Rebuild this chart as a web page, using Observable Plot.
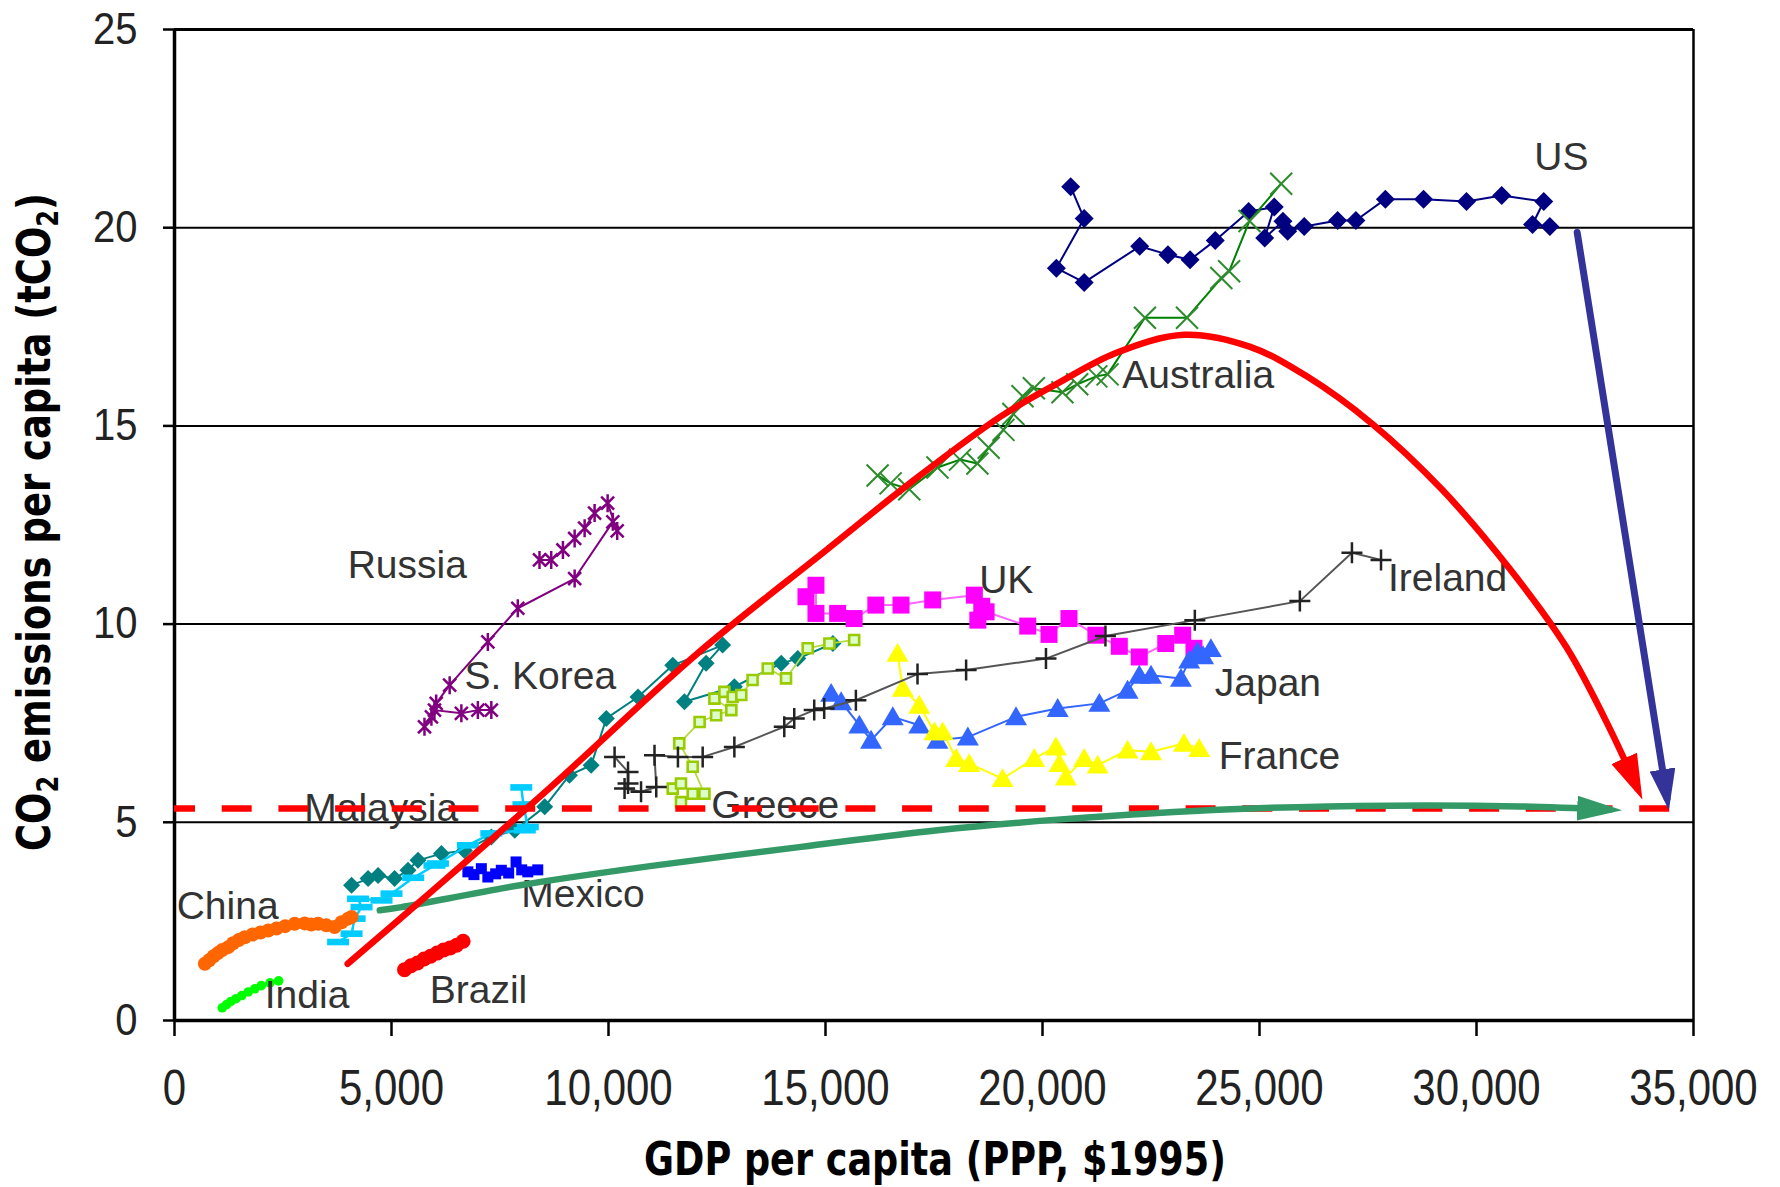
<!DOCTYPE html>
<html><head><meta charset="utf-8">
<script src="https://cdn.jsdelivr.net/npm/d3@7"></script>
<script src="https://cdn.jsdelivr.net/npm/@observablehq/plot@0.6"></script>
<style>html,body{margin:0;padding:0;background:#fff;}#chart{width:1780px;height:1187px;}</style>
</head><body><div id="chart"></div>
<script>
// ---------- data (GDP per capita PPP $1995, CO2 t per capita) ----------
const xTicks = [0,5000,10000,15000,20000,25000,30000,35000];
const yTicks = [0,5,10,15,20,25];

const us = [[20650,21.03],[20960,20.23],[20320,18.98],[20960,18.62],[22240,19.53],[22890,19.32],[23400,19.19],[23980,19.68],[24750,20.41],[25340,20.52],[25120,19.74],[25540,20.16],[25650,19.91],[26030,20.03],[26800,20.18],[27220,20.18],[27900,20.72],[28780,20.72],[29770,20.66],[30580,20.81],[31550,20.66],[31290,20.08],[31690,20.03]];
const australia = [[16200,13.75],[16500,13.55],[16930,13.40],[17580,13.95],[18100,14.15],[18500,14.05],[18760,14.45],[19100,14.90],[19330,15.30],[19540,15.75],[19800,15.95],[20460,15.85],[20800,16.05],[21240,16.25],[21500,16.30],[22360,17.73],[23330,17.73],[24120,18.73],[24300,18.90],[24770,20.17],[25500,21.11]];
const russia = [[8410,11.62],[8680,11.62],[8950,11.87],[9220,12.16],[9450,12.42],[9680,12.80],[9980,13.05],[10200,12.35],[10100,12.58],[9220,11.15],[7910,10.40],[7220,9.55],[6340,8.46],[6030,8.00],[5920,7.66],[5760,7.41],[5990,7.83],[6610,7.75],[6990,7.83],[7300,7.83]];
const korea = [[4080,3.41],[4460,3.58],[4690,3.66],[5070,3.58],[5380,3.79],[5610,4.04],[6150,4.21],[6680,4.29],[7300,4.63],[7840,4.80],[8530,5.39],[9100,6.19],[9600,6.44],[9950,7.62],[10680,8.16],[11480,8.96],[12630,9.47],[12250,9.01],[11750,8.04],[12900,8.42],[13980,9.01],[14360,9.13],[15170,9.51]];
const malaysia = [[3770,1.98],[4080,2.19],[4150,2.57],[4310,2.86],[4230,3.07],[4770,3.03],[5000,3.20],[5500,3.60],[5990,3.91],[6070,3.96],[6760,4.42],[7300,4.72],[8070,4.80],[8140,4.88],[8040,5.45],[7990,5.88]];
const china = [[700,1.43],[800,1.52],[900,1.62],[1000,1.70],[1100,1.78],[1240,1.85],[1350,1.95],[1480,2.03],[1620,2.10],[1800,2.17],[1980,2.22],[2160,2.27],[2350,2.32],[2550,2.38],[2770,2.44],[3000,2.45],[3150,2.42],[3310,2.44],[3500,2.40],[3690,2.36],[3850,2.48],[4000,2.57],[4080,2.61]];
const india = [[1100,0.32],[1200,0.40],[1300,0.48],[1420,0.55],[1550,0.63],[1700,0.72],[1850,0.80],[2000,0.88],[2200,0.95],[2400,1.00]];
const brazil = [[5300,1.28],[5450,1.38],[5600,1.45],[5750,1.55],[5900,1.62],[6050,1.70],[6200,1.78],[6350,1.83],[6500,1.90],[6650,2.00]];
const mexico = [[6760,3.75],[6900,3.68],[7070,3.83],[7220,3.62],[7400,3.70],[7530,3.79],[7700,3.72],[7870,4.00],[8000,3.80],[8140,3.75],[8370,3.80]];
const uk = [[14550,10.69],[14780,10.98],[14780,10.27],[15280,10.27],[15660,10.14],[16160,10.48],[16740,10.48],[17470,10.61],[18430,10.73],[18600,10.45],[18510,10.10],[18700,10.31],[19660,9.95],[20150,9.74],[20610,10.14],[21230,9.72],[21770,9.44],[22230,9.17],[22840,9.51],[23230,9.72],[23490,9.39]];
const japan = [[15130,8.25],[15360,8.04],[15780,7.45],[16050,7.07],[16550,7.66],[17160,7.45],[17580,7.07],[18280,7.15],[19390,7.66],[20350,7.87],[21310,8.00],[21960,8.33],[22230,8.71],[22500,8.71],[23190,8.63],[23380,9.09],[23570,9.30],[23880,9.38],[23700,9.20]];
const france = [[16660,9.26],[16780,8.38],[17160,7.95],[17510,7.28],[17700,7.28],[18010,6.61],[18310,6.48],[19080,6.10],[19810,6.61],[20310,6.90],[20390,6.48],[20540,6.14],[20960,6.61],[21270,6.44],[21960,6.82],[22500,6.78],[23260,6.99],[23610,6.86]];
const greece = [[11670,5.51],[11480,5.85],[11670,5.98],[11940,5.72],[12210,5.72],[11940,6.40],[11630,6.99],[12100,7.53],[12480,7.70],[12830,7.83],[12440,8.12],[12670,8.29],[12860,8.16],[13060,8.21],[13320,8.59],[13670,8.88],[14090,8.63],[14590,9.39],[15090,9.51],[15660,9.60]];
const ireland = [[10140,6.65],[10450,6.27],[10450,5.98],[10370,5.85],[10750,5.77],[11100,5.89],[11060,6.69],[11600,6.65],[12170,6.65],[12900,6.90],[14050,7.41],[14280,7.62],[14740,7.83],[14970,7.87],[15700,8.08],[17120,8.74],[18240,8.84],[20080,9.13],[21450,9.70],[23510,10.10],[25930,10.58],[27130,11.80],[27800,11.62]];

const labelNames = ["US","Australia","Russia","UK","Ireland","S. Korea","Japan","France","Malaysia","Greece","China","Mexico","Brazil","India"];
const labelX = [31330,21840,3990,18540,27960,6680,23970,24060,2990,12370,50,7990,5880,2080];
const labelY = [21.77,16.27,11.47,11.09,11.15,8.68,8.50,6.65,5.36,5.43,2.88,3.18,0.75,0.63];

// annotation paths (value space)
const redCurve = [[3990,1.43],[5770,3.11],[8680,5.90],[12050,9.26],[15000,11.85],[17000,13.60],[19040,15.24],[20360,16.08],[21690,16.84],[23270,17.30],[24770,17.00],[26090,16.25],[27600,15.05],[29200,13.40],[30760,11.40],[32070,9.42],[33090,7.32],[33710,5.85]];
const greenArrow = [[4730,2.78],[5230,2.86],[8000,3.42],[11000,3.90],[14440,4.38],[17580,4.80],[20500,5.08],[24340,5.33],[28000,5.42],[31000,5.40],[33080,5.32]];
const blueArrow = [[32320,19.88],[34390,5.61]];
const targetLevel = [5.35];

// ---------- styles ----------
const sym = {
  diamond: {draw(c,s){const r=Math.sqrt(s/Math.PI);c.moveTo(0,-r);c.lineTo(r,0);c.lineTo(0,r);c.lineTo(-r,0);c.closePath();}},
  square: {draw(c,s){const r=Math.sqrt(s/Math.PI);c.rect(-r,-r,2*r,2*r);}},
  triangle: {draw(c,s){const r=Math.sqrt(s/Math.PI);c.moveTo(0,-r);c.lineTo(1.05*r,0.8*r);c.lineTo(-1.05*r,0.8*r);c.closePath();}},
  dash: {draw(c,s){const r=Math.sqrt(s/Math.PI);c.rect(-r,-0.3*r,2*r,0.6*r);}},
  plus: {draw(c,s){const r=Math.sqrt(s/Math.PI);c.moveTo(-r,0);c.lineTo(r,0);c.moveTo(0,-r);c.lineTo(0,r);}},
  times: {draw(c,s){const r=Math.sqrt(s/Math.PI);c.moveTo(-r,-r);c.lineTo(r,r);c.moveTo(r,-r);c.lineTo(-r,r);}},
  star: {draw(c,s){const r=Math.sqrt(s/Math.PI);const k=0.72*r;c.moveTo(0,-r);c.lineTo(0,r);c.moveTo(-k,-k);c.lineTo(k,k);c.moveTo(k,-k);c.lineTo(-k,k);}}
};

const series = [
  {data: us, line:"#000080", lw:2, symbol:sym.diamond, r:9.5, fill:"#000080", stroke:"none", sw:0},
  {data: australia, line:"#008000", lw:2, symbol:sym.times, r:11, fill:"none", stroke:"#2e8b2e", sw:2},
  {data: russia, line:"#800080", lw:2, symbol:sym.star, r:9, fill:"none", stroke:"#800080", sw:2.5},
  {data: korea, line:"#008080", lw:2, symbol:sym.diamond, r:8.5, fill:"#008080", stroke:"none", sw:0},
  {data: malaysia, line:"#00CCFF", lw:2.5, symbol:sym.dash, r:11, fill:"#00CCFF", stroke:"none", sw:0},
  {data: china, line:"#FF6600", lw:4, symbol:"circle", r:7, fill:"#FF6600", stroke:"none", sw:0},
  {data: india, line:"#00FF00", lw:3, symbol:"circle", r:4.8, fill:"#00FF00", stroke:"none", sw:0},
  {data: brazil, line:"#FF0000", lw:4, symbol:"circle", r:7.5, fill:"#FF0000", stroke:"none", sw:0},
  {data: mexico, line:"#0000FF", lw:2, symbol:sym.square, r:5.5, fill:"#0000FF", stroke:"none", sw:0},
  {data: uk, line:"#FF66FF", lw:2, symbol:sym.square, r:8.5, fill:"#FF00FF", stroke:"none", sw:0},
  {data: japan, line:"#3366FF", lw:2, symbol:sym.triangle, r:10.5, fill:"#3366FF", stroke:"none", sw:0},
  {data: france, line:"#FFFF00", lw:2, symbol:sym.triangle, r:10.5, fill:"#FFFF00", stroke:"none", sw:0},
  {data: greece, line:"#B5DB40", lw:1.8, symbol:sym.square, r:5, fill:"#DDFFCC", stroke:"#99CC00", sw:2.6},
  {data: ireland, line:"#555555", lw:2, symbol:sym.plus, r:10.5, fill:"none", stroke:"#222222", sw:2.5}
];

const X = d => d[0], Y = d => d[1];
const seriesMarks = series.flatMap(s => [
  Plot.line(s.data, {x: X, y: Y, stroke: s.line, strokeWidth: s.lw}),
  Plot.dot(s.data, {x: X, y: Y, symbol: s.symbol, r: s.r, fill: s.fill, stroke: s.stroke, strokeWidth: s.sw})
]);

const labels = labelNames.map((n,i) => ({name:n, x:labelX[i], y:labelY[i]}));

const chart = Plot.plot({
  width: 1780, height: 1187,
  marginLeft: 174, marginRight: 87, marginTop: 29, marginBottom: 167,
  x: {domain: [0, 35000]},
  y: {domain: [0, 25]},
  style: {fontFamily: "'Liberation Sans', Arial, sans-serif", background: "#fff", overflow: "visible"},
  marks: [
    Plot.gridY(yTicks.filter(t => t > 0 && t < 25), {stroke: "#000", strokeOpacity: 1, strokeWidth: 2}),
    Plot.ruleY([25], {stroke: "#000", strokeWidth: 2.8}),
    Plot.axisY(yTicks, {tickSize: 11, tickPadding: 26, fontSize: 40, tickFormat: d => String(d), label: null, stroke: "#000", strokeWidth: 2.5, color: "#222"}),
    Plot.axisX(xTicks, {tickSize: 16, tickPadding: 33, fontSize: 42, tickFormat: d3.format(","), label: null, stroke: "#000", strokeWidth: 2.5, color: "#222"}),
    Plot.ruleX([35000], {stroke: "#000", strokeWidth: 2.5}),
    ...seriesMarks,
    Plot.text(labels, {x: "x", y: "y", text: "name", textAnchor: "start", fontSize: 39, fill: "#333"}),
    Plot.ruleX([0], {stroke: "#000", strokeWidth: 3.5}),
    Plot.ruleY([0], {stroke: "#000", strokeWidth: 3.5}),
    Plot.ruleY(targetLevel, {stroke: "#FF0000", strokeWidth: 6.5, strokeDasharray: "30,26.7", strokeDashoffset: 9}),
    Plot.line(greenArrow, {x: X, y: Y, stroke: "#339966", strokeWidth: 6.5, curve: "catmull-rom", ariaDescription: "green-arrow"}),
    Plot.line(redCurve, {x: X, y: Y, stroke: "#FE0000", strokeWidth: 6.5, curve: "catmull-rom", ariaDescription: "red-curve"}),
    Plot.line(blueArrow, {x: X, y: Y, stroke: "#333399", strokeWidth: 7, ariaDescription: "blue-arrow"})
  ]
});
document.getElementById("chart").appendChild(chart);

// ---------- post-processing: arrowheads, titles, tick label shape ----------
const svg = d3.select(chart);
const defs = svg.insert("defs", ":first-child");
function addMarker(id, color, len, wid, over) {
  defs.append("marker").attr("id", id).attr("markerUnits", "userSpaceOnUse")
    .attr("viewBox", `0 0 ${len} ${wid}`).attr("markerWidth", len).attr("markerHeight", wid)
    .attr("refX", len - over).attr("refY", wid / 2).attr("orient", "auto")
    .append("path").attr("d", `M0,0L${len},${wid/2}L0,${wid}Z`).attr("fill", color);
}
addMarker("ah-red", "#FE0000", 45, 28, 12);
addMarker("ah-blue", "#333399", 41, 26, 12);
addMarker("ah-green", "#339966", 45, 25, 12);
function attach(desc, stroke, id) {
  let p = svg.select(`g[aria-description="${desc}"] path`);
  if (p.empty()) p = svg.select(`g[stroke="${stroke}"] path`);
  p.attr("marker-end", `url(#${id})`);
}
attach("red-curve", "#FE0000", "ah-red");
attach("blue-arrow", "#333399", "ah-blue");
attach("green-arrow", "#339966", "ah-green");

svg.selectAll('g[aria-label="x-axis tick label"] text').each(function() {
  const t = this.getAttribute("transform"); if (t) this.setAttribute("transform", t + " scale(1,1.2)");
});
svg.selectAll('g[aria-label="y-axis tick label"] text').each(function() {
  const t = this.getAttribute("transform"); if (t) this.setAttribute("transform", t + " scale(1,1.12)");
});

const narrow = "'Liberation Sans Narrow','DejaVu Sans Condensed','Liberation Sans',sans-serif";
const yt = svg.append("text").attr("transform", "translate(50,522) rotate(-90)")
  .attr("text-anchor", "middle").attr("font-family", narrow).attr("font-weight", "bold")
  .attr("font-size", 46).attr("fill", "#000").attr("textLength", 658).attr("lengthAdjust", "spacingAndGlyphs");
yt.append("tspan").text("CO");
yt.append("tspan").attr("font-size", 30).attr("dy", 8).text("2");
yt.append("tspan").attr("dy", -8).text(" emissions per capita (tCO");
yt.append("tspan").attr("font-size", 30).attr("dy", 8).text("2");
yt.append("tspan").attr("dy", -8).text(")");

svg.append("text").attr("x", 935).attr("y", 1175).attr("text-anchor", "middle")
  .attr("font-family", narrow).attr("font-weight", "bold").attr("font-size", 46).attr("fill", "#000")
  .attr("textLength", 582).attr("lengthAdjust", "spacingAndGlyphs")
  .text("GDP per capita (PPP, $1995)");
</script>
</body></html>
